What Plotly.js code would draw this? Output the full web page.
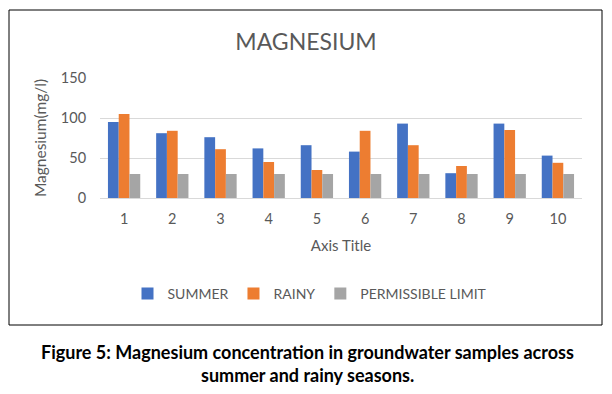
<!DOCTYPE html>
<html>
<head>
<meta charset="utf-8">
<script src="https://cdn.plot.ly/plotly-3.0.1.min.js"></script>
<style>html,body{margin:0;padding:0;background:#fff;}#chart{width:612px;height:394px;}</style>
</head>
<body>
<div id="chart"></div>
<script>
const categories = ['1','2','3','4','5','6','7','8','9','10'];
const summer = [95, 81, 76, 62, 66, 58, 93, 31, 93, 53];
const rainy = [105, 84, 61, 45, 35, 84, 66, 40, 85, 44];
const permissible = [30, 30, 30, 30, 30, 30, 30, 30, 30, 30];
const seriesNames = ['SUMMER', 'RAINY', 'PERMISSIBLE LIMIT'];
const colors = ['#4472C4', '#ED7D31', '#A5A5A5'];

const L = 100, R = 30, T = 78, B = 196, W = 612, H = 394;
const pw = W - L - R, ph = H - T - B;
const px = x => (x - L) / pw;
const py = y => (H - B - y) / ph;

const font = 'Lato, "Open Sans", "DejaVu Sans", sans-serif';
const traces = [summer, rainy, permissible].map((vals, i) => ({
  type: 'bar', x: categories, y: vals, name: seriesNames[i],
  marker: {color: colors[i]}, hoverinfo: 'skip'
}));

const layout = {
  width: W, height: H,
  margin: {l: L, r: R, t: T, b: B},
  paper_bgcolor: '#fff', plot_bgcolor: '#fff',
  font: {family: font, color: '#595959', size: 14},
  barmode: 'group', bargap: 0.33, bargroupgap: 0,
  title: {text: 'MAGNESIUM', font: {size: 23, color: '#595959', family: font},
          xref: 'container', x: 306/W, xanchor: 'center', yref: 'container', y: 1 - 42/H, yanchor: 'middle'},
  xaxis: {type: 'category', showgrid: false, showline: true, linecolor: '#d9d9d9', linewidth: 1,
          tickfont: {size: 14.5, color: '#595959'}, ticks: 'outside', ticklen: 8, tickcolor: 'rgba(0,0,0,0)',
          title: {text: 'Axis Title', font: {size: 15, color: '#595959'}, standoff: 14}},
  yaxis: {range: [0, 150], dtick: 50, showgrid: true, gridcolor: '#d9d9d9', zeroline: false,
          tickfont: {size: 14.5, color: '#595959'}, ticks: 'outside', ticklen: 10, tickcolor: 'rgba(0,0,0,0)',
          title: {text: 'Magnesium(mg/l)', font: {size: 15.5, color: '#595959'}, standoff: 10}},
  legend: {orientation: 'h', xref: 'container', x: 310/W, xanchor: 'center', yref: 'container', y: 1 - 294/H, yanchor: 'middle',
           font: {size: 14, color: '#595959'}, itemwidth: 30, traceorder: 'normal'},
  shapes: [{type: 'rect', xref: 'paper', yref: 'paper', x0: px(9), x1: px(602), y0: py(325), y1: py(10),
            line: {color: '#000', width: 1}, fillcolor: 'rgba(0,0,0,0)', layer: 'below'}],
  annotations: [
    {text: '<b>Figure 5: Magnesium concentration in groundwater samples across</b>', xref: 'paper', yref: 'paper',
     x: px(307), y: py(352), xanchor: 'center', yanchor: 'middle', showarrow: false,
     font: {size: 18, color: '#000', family: font}},
    {text: '<b>summer and rainy seasons.</b>', xref: 'paper', yref: 'paper',
     x: px(307), y: py(375), xanchor: 'center', yanchor: 'middle', showarrow: false,
     font: {size: 18, color: '#000', family: font}}
  ]
};
Plotly.newPlot('chart', traces, layout, {displayModeBar: false, staticPlot: true});
</script>
</body>
</html>
